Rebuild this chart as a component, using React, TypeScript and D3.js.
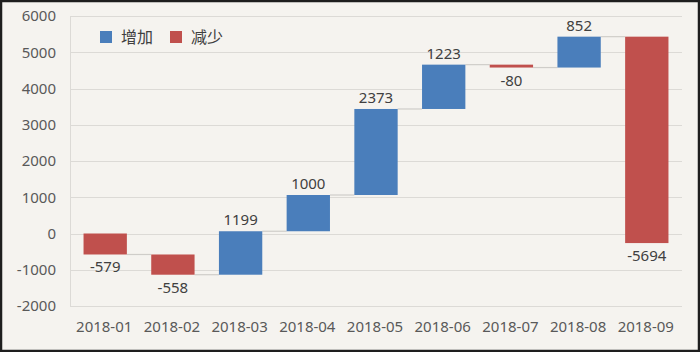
import * as d3 from "d3";
import React, { useEffect, useRef } from "react";

const months = ["2018-01", "2018-02", "2018-03", "2018-04", "2018-05", "2018-06", "2018-07", "2018-08", "2018-09"];
const changes = [-579, -558, 1199, 1000, 2373, 1223, -80, 852, -5694];
const yTicks = [-2000, -1000, 0, 1000, 2000, 3000, 4000, 5000, 6000];
const legendLabels = ["增加", "减少"];

const W = 700;
const H = 352;

const App = () => {
  const svgRef = useRef<SVGSVGElement>(null);

  useEffect(() => {
    const svg = d3.select(svgRef.current);
    svg.selectAll("*").remove();

    const margin = { top: 16, right: 18, bottom: 46, left: 70 };
    const innerWidth = W - margin.left - margin.right;
    const innerHeight = H - margin.top - margin.bottom;
    const font = "'Noto Sans', 'Noto Sans CJK SC', sans-serif";
    const blue = "#4a7ebb";
    const red = "#c0504d";

    // running totals
    let acc = 0;
    const steps = changes.map((v, i) => {
      const start = acc;
      acc += v;
      return { month: months[i], value: v, start, end: acc };
    });

    svg.append("rect").attr("width", W).attr("height", H).attr("fill", "#f5f3ef");

    const x = d3.scaleBand().domain(months).range([0, innerWidth]).paddingInner(0.36).paddingOuter(0.2);
    const y = d3.scaleLinear().domain([-2000, 6000]).range([innerHeight, 0]);

    const g = svg.append("g").attr("transform", `translate(${margin.left},${margin.top})`);

    // Gridlines
    g.append("g")
      .selectAll("line")
      .data(yTicks)
      .enter()
      .append("line")
      .attr("x1", 0)
      .attr("x2", innerWidth)
      .attr("y1", (d) => Math.round(y(d)) + 0.5)
      .attr("y2", (d) => Math.round(y(d)) + 0.5)
      .attr("stroke", "#dcdad6")
      .attr("stroke-width", 1.2);

    g.append("line")
      .attr("x1", 0.5)
      .attr("x2", 0.5)
      .attr("y1", 0)
      .attr("y2", innerHeight)
      .attr("stroke", "#dcdad6");

    // Y labels
    g.append("g")
      .selectAll("text")
      .data(yTicks)
      .enter()
      .append("text")
      .attr("x", -14)
      .attr("y", (d) => y(d))
      .attr("dy", "0.35em")
      .attr("text-anchor", "end")
      .attr("fill", "#595959")
      .style("font-family", font)
      .style("font-size", "15px")
      .text((d) => d);

    // X labels
    g.append("g")
      .selectAll("text")
      .data(months)
      .enter()
      .append("text")
      .attr("x", (d) => x(d)! + x.bandwidth() / 2 - 1)
      .attr("y", innerHeight + 26)
      .attr("text-anchor", "middle")
      .attr("fill", "#595959")
      .style("font-family", font)
      .style("font-size", "15px")
      .text((d) => d);

    // Connectors
    g.append("g")
      .selectAll("line")
      .data(steps.slice(0, -1))
      .enter()
      .append("line")
      .attr("x1", (d) => x(d.month)! + x.bandwidth())
      .attr("x2", (d, i) => x(months[i + 1])!)
      .attr("y1", (d) => y(d.end))
      .attr("y2", (d) => y(d.end))
      .attr("stroke", "#cfcdc9")
      .attr("stroke-width", 1.2);

    // Bars
    g.append("g")
      .selectAll("rect")
      .data(steps)
      .enter()
      .append("rect")
      .attr("x", (d) => x(d.month)!)
      .attr("width", x.bandwidth())
      .attr("y", (d) => y(Math.max(d.start, d.end)))
      .attr("height", (d) => Math.max(2, Math.abs(y(d.start) - y(d.end))))
      .attr("fill", (d) => (d.value >= 0 ? blue : red));

    // Data labels
    g.append("g")
      .selectAll("text")
      .data(steps)
      .enter()
      .append("text")
      .attr("x", (d) => x(d.month)! + x.bandwidth() / 2)
      .attr("y", (d) => (d.value >= 0 ? y(d.end) - 6 : y(d.end) + 18))
      .attr("text-anchor", "middle")
      .attr("fill", "#404040")
      .style("font-family", font)
      .style("font-size", "15px")
      .text((d) => d.value);

    // Legend
    const legend = svg.append("g").attr("transform", "translate(100,31)");
    legendLabels.forEach((label, i) => {
      const lg = legend.append("g").attr("transform", `translate(${i * 70},0)`);
      lg.append("rect").attr("width", 12).attr("height", 12).attr("fill", i === 0 ? blue : red);
      lg.append("text")
        .attr("x", 21)
        .attr("y", 6)
        .attr("dy", "0.35em")
        .attr("fill", "#404040")
        .style("font-family", "'Noto Sans CJK SC', sans-serif")
        .style("font-size", "16px")
        .text(label);
    });

    // Frame
    svg.append("rect")
      .attr("x", 1)
      .attr("y", 1)
      .attr("width", W - 2)
      .attr("height", H - 2)
      .attr("fill", "none")
      .attr("stroke", "#1e1e1e")
      .attr("stroke-width", 2.5);
  }, []);

  return <svg ref={svgRef} width={W} height={H} style={{ position: "absolute", left: 0, top: 0 }}></svg>;
};

export default App;
